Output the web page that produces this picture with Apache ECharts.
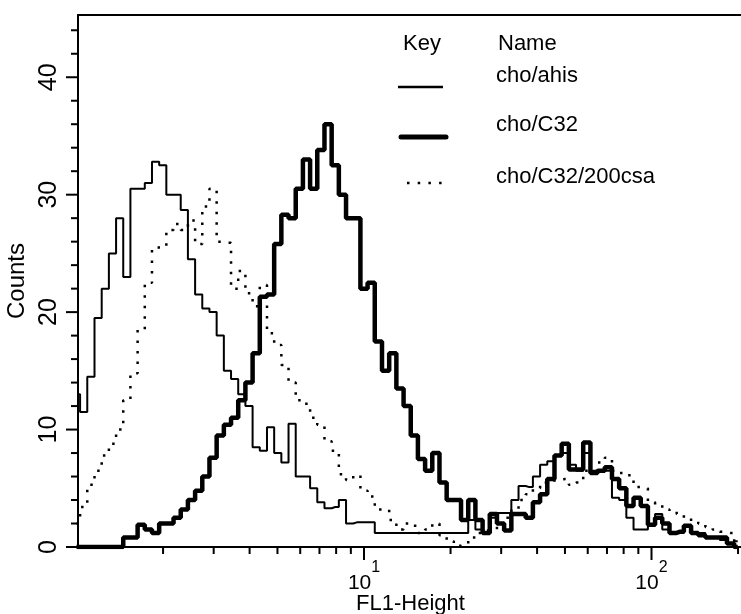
<!DOCTYPE html>
<html>
<head>
<meta charset="utf-8">
<script src="https://cdn.jsdelivr.net/npm/echarts@6/dist/echarts.min.js"></script>
<style>html,body{margin:0;padding:0;background:#fff}#c{width:741px;height:614px}</style>
</head>
<body>
<div id="c"></div>
<script>
// FL1-Height channel positions (bin centres)
const fl1Channels = [1, 1.059, 1.122, 1.189, 1.259, 1.334, 1.413, 1.496, 1.585, 1.679,
  1.778, 1.884, 1.995, 2.113, 2.239, 2.371, 2.512, 2.661, 2.818, 2.985,
  3.162, 3.350, 3.548, 3.758, 3.981, 4.217, 4.467, 4.732, 5.012, 5.309,
  5.623, 5.957, 6.310, 6.683, 7.079, 7.499, 7.943, 8.414, 8.913, 9.441,
  10, 10.59, 11.22, 11.89, 12.59, 13.34, 14.13, 14.96, 15.85, 16.79,
  17.78, 18.84, 19.95, 21.13, 22.39, 23.71, 25.12, 26.61, 28.18, 29.85,
  31.62, 33.50, 35.48, 37.58, 39.81, 42.17, 44.67, 47.32, 50.12, 53.09,
  56.23, 59.57, 63.10, 66.83, 70.79, 74.99, 79.43, 84.14, 89.13, 94.41,
  100, 105.9, 112.2, 118.9, 125.9, 133.4, 141.3, 149.6, 158.5, 167.9,
  177.8, 188.4, 199.5];

// Counts: cho/ahis (thin line)
const choAhis = [13, 11.5, 14.5, 19.5, 22, 25, 28, 23, 30.5, 30.5,
  31, 32.8, 32.5, 30, 30, 28.7, 24.5, 21.5, 20.3, 20,
  18, 15, 14.3, 13, 12, 8.5, 8.2, 10.2, 8, 7.2,
  10.5, 6, 6, 5, 3.8, 3.3, 3.4, 4, 2, 2.1,
  2.1, 2.1, 1.2, 1.2, 1.2, 1.2, 1.2, 1.2, 1.2, 1.2,
  1.2, 1.2, 1.2, 1.2, 1.2, 2.3, 1.5, 1.2, 2.5, 2.9,
  2.9, 4, 5.2, 5.1, 6, 7, 7.3, 7.8, 8, 7,
  6.5, 8, 6.5, 6.5, 6.5, 4.2, 4, 2.5, 1.5, 1.5,
  1.8, 2.8, 1.5, 1.2, 1.2, 1.8, 1.2, 1.2, 0.8, 0.8,
  0.6, 0.3, 0.5];

// Counts: cho/C32 (thick line)
const choC32 = [0, 0, 0, 0, 0, 0, 0, 0.8, 0.8, 1.9,
  1.5, 1.2, 2, 2, 2.5, 3.2, 4, 4.8, 6, 7.6,
  9.5, 10.4, 11, 12.5, 14, 16.5, 21.3, 21.5, 25.8, 28.3,
  28, 30.5, 33, 30.5, 33.8, 36, 32.5, 30, 28, 28,
  22, 22.5, 17.5, 15, 16.5, 13.5, 12, 9.5, 7.5, 6.5,
  8, 5.5, 4, 4, 2.3, 4, 2.3, 1.2, 2.8, 2,
  1.4, 2.8, 2.8, 2.5, 3.8, 4.5, 5.8, 7.8, 8.8, 6.6,
  6.6, 8.9, 6.3, 6.5, 6.8, 5.8, 5, 3.5, 4.2, 3.5,
  1.9, 2.5, 2, 1.2, 1.3, 1.8, 1.2, 1, 0.8, 0.8,
  0.8, 0.3, 0];

// Counts: cho/C32/200csa (dotted line)
const choC32csa = [2, 3.4, 5.3, 6.5, 7.8, 8.8, 10, 12.5, 14.8, 18.5,
  22.5, 25.5, 25.5, 27, 27.5, 27, 27.8, 25.8, 29, 30.5,
  26, 25.9, 22, 23.5, 21.6, 20.5, 22.3, 18.2, 17.2, 15.5,
  14, 12.5, 12.2, 11, 10.4, 9, 8.2, 6.2, 5.7, 6.1,
  4.8, 4.3, 3.2, 3.2, 2.3, 1.5, 2, 1.8, 1.2, 1.5,
  2, 1, 0.5, 0.1, 0.2, 0.8, 1.2, 1.4, 1.5, 1.8,
  2.5, 3.2, 4, 4.5, 5, 5.5, 5.5, 5.7, 5.8, 5.3,
  5.5, 6.5, 6.5, 7.2, 7.6, 6.5, 6.3, 6.1, 5.1, 5,
  3.8, 3.6, 3.2, 3, 2.8, 2.5, 2.2, 2, 1.7, 1.5,
  1.3, 1.2, 0.5];

const seriesNames = ['cho/ahis', 'cho/C32', 'cho/C32/200csa'];
const yMajorTicks = [0, 10, 20, 30, 40];
const yMinorTicks = [2, 4, 6, 8, 12, 14, 16, 18, 22, 24, 26, 28, 32, 34, 36, 38, 42, 44];
const xMajorTicks = [10, 100];
const xMajorLabels = ['1', '2'];       // exponents shown as 10^n
const xMinorTicks = [2, 3, 4, 5, 6, 7, 8, 9, 20, 30, 40, 50, 60, 70, 80, 90, 200];
const X_MIN = 1.012, X_MAX = 208.1, Y_MAX = 45.3;

const FONT = '"Liberation Sans", Arial, Helvetica, sans-serif';
const chart = echarts.init(document.getElementById('c'), null, { renderer: 'canvas' });
const lmin = Math.log10(X_MIN), lmax = Math.log10(X_MAX);
const toLog = v => Math.log10(v);

function pairs(ys) { return fl1Channels.map((x, i) => [x, ys[i]]); }

// tick marks drawn through the axes' own scales (api.coord)
function tickSeries(data, dim, len) {
  return {
    type: 'custom', coordinateSystem: 'cartesian2d', xAxisIndex: 0, yAxisIndex: 0,
    silent: true, clip: false, z: 6, data: data,
    renderItem: (params, api) => {
      const p = api.coord([api.value(0), api.value(1)]);
      const shape = dim === 'x'
        ? { x1: p[0], y1: p[1], x2: p[0], y2: p[1] + len }
        : { x1: p[0] - len, y1: p[1], x2: p[0], y2: p[1] };
      return { type: 'line', shape: shape, style: { stroke: '#000', lineWidth: 2 } };
    }
  };
}

const option = {
  backgroundColor: '#fff',
  animation: false,
  grid: { left: 78, right: -2, top: 15, bottom: 67, outerBoundsMode: 'none', containLabel: false,
          show: true, borderColor: '#000', borderWidth: 2, backgroundColor: 'transparent' },
  xAxis: [
    {
      type: 'log', logBase: 10, min: X_MIN, max: X_MAX, position: 'bottom',
      axisLine: { show: true, lineStyle: { color: '#000', width: 2 } },
      axisTick: { show: false }, axisLabel: { show: false }, splitLine: { show: false },
      name: 'FL1-Height', nameLocation: 'middle', nameGap: 46,
      nameTextStyle: { fontFamily: FONT, fontSize: 22, color: '#000' }
    },
    {
      type: 'value', min: lmin, max: lmax, position: 'bottom',
      axisLine: { show: false }, splitLine: { show: false }, axisTick: { show: false },
      axisLabel: {
        show: true, customValues: xMajorTicks.map(toLog), margin: 13,
        formatter: (v) => {
          const i = xMajorTicks.findIndex(t => Math.abs(toLog(t) - v) < 1e-6);
          return '{b|10}{s|' + (i >= 0 ? xMajorLabels[i] : '') + '}';
        },
        rich: {
          b: { fontFamily: FONT, fontSize: 21, color: '#000', lineHeight: 34, verticalAlign: 'bottom' },
          s: { fontFamily: FONT, fontSize: 16, color: '#000', lineHeight: 14, verticalAlign: 'top' }
        }
      }
    }
  ],
  yAxis: [
    {
      type: 'value', min: 0, max: Y_MAX, interval: 10, position: 'left',
      axisLine: { show: true, lineStyle: { color: '#000', width: 2 } },
      axisTick: { show: false }, splitLine: { show: false },
      axisLabel: { show: true, showMaxLabel: false, rotate: 90, margin: 16, fontFamily: FONT, fontSize: 25, color: '#000' },
      name: 'Counts', nameLocation: 'middle', nameGap: 47, nameRotate: 90,
      nameTextStyle: { fontFamily: FONT, fontSize: 24, color: '#000' }
    }
  ],
  series: [
    {
      name: seriesNames[2], type: 'line', step: 'middle', xAxisIndex: 0, yAxisIndex: 0,
      data: pairs(choC32csa), showSymbol: false, z: 2,
      lineStyle: { color: '#000', width: 2.5, type: [2.5, 8] }
    },
    {
      name: seriesNames[0], type: 'line', step: 'middle', xAxisIndex: 0, yAxisIndex: 0,
      data: pairs(choAhis), showSymbol: false, z: 3,
      lineStyle: { color: '#000', width: 2 }
    },
    {
      name: seriesNames[1], type: 'line', step: 'middle', xAxisIndex: 0, yAxisIndex: 0,
      data: pairs(choC32), showSymbol: false, z: 4,
      lineStyle: { color: '#000', width: 4.5 }
    },
    tickSeries(xMinorTicks.map(t => [t, 0]), 'x', 7),
    tickSeries(xMajorTicks.map(t => [t, 0]), 'x', 13),
    tickSeries(yMinorTicks.map(t => [X_MIN, t]), 'y', 7),
    tickSeries(yMajorTicks.map(t => [X_MIN, t]), 'y', 12)
  ],
  graphic: [
    { type: 'text', left: 403, top: 33, style: { text: 'Key', fontFamily: FONT, fontSize: 22, fill: '#000' } },
    { type: 'text', left: 498, top: 33, style: { text: 'Name', fontFamily: FONT, fontSize: 22, fill: '#000' } },
    { type: 'text', left: 496, top: 65, style: { text: seriesNames[0], fontFamily: FONT, fontSize: 22, fill: '#000' } },
    { type: 'text', left: 496, top: 114, style: { text: seriesNames[1], fontFamily: FONT, fontSize: 22, fill: '#000' } },
    { type: 'text', left: 496, top: 166, style: { text: seriesNames[2], fontFamily: FONT, fontSize: 22, fill: '#000' } },
    { type: 'line', shape: { x1: 398, y1: 87, x2: 443, y2: 87 }, style: { stroke: '#000', lineWidth: 2.5 } },
    { type: 'line', shape: { x1: 401, y1: 137, x2: 446, y2: 137 }, style: { stroke: '#000', lineWidth: 5, lineCap: 'round' } },
    { type: 'line', shape: { x1: 407, y1: 183, x2: 444, y2: 183 }, style: { stroke: '#000', lineWidth: 2.5, lineDash: [2.5, 8.2] } }
  ]
};
chart.setOption(option);
</script>
</body>
</html>
